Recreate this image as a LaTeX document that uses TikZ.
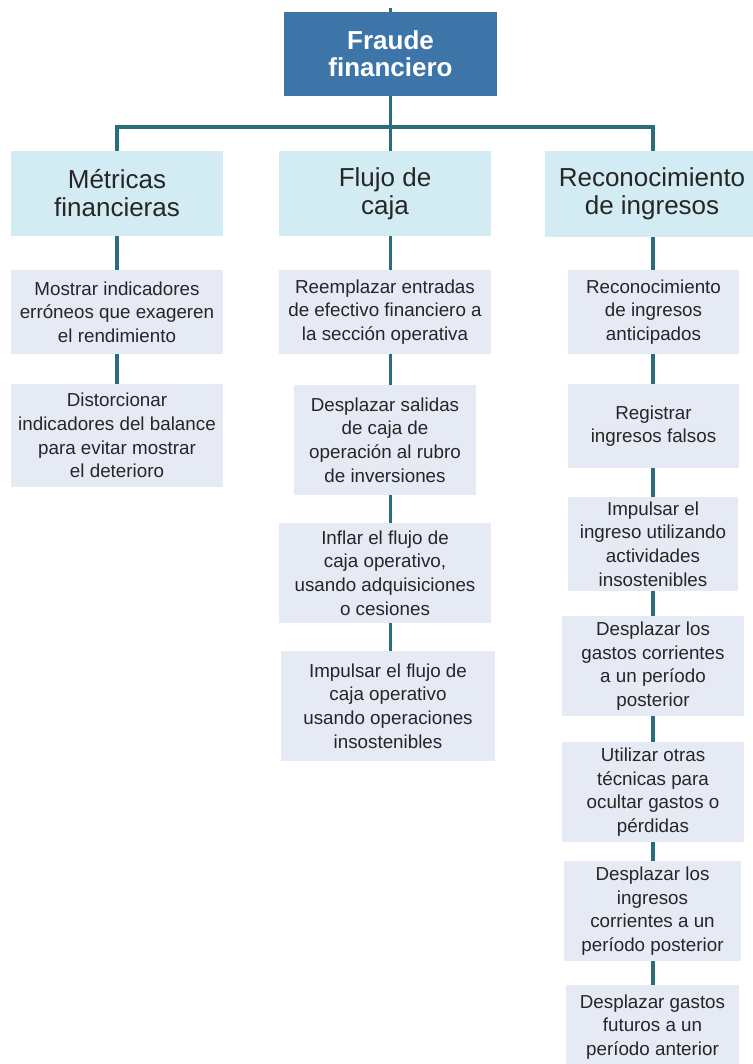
\documentclass[tikz,border=0pt]{standalone}
\usepackage{fontspec}
\setmainfont{Liberation Sans}
\definecolor{rootblue}{HTML}{3D75A9}
\definecolor{lvlone}{HTML}{D3ECF3}
\definecolor{lvltwo}{HTML}{E5EAF5}
\definecolor{connteal}{HTML}{2A6D7C}
\definecolor{txtgray}{HTML}{262626}
\tikzset{
  rootbox/.style={fill=rootblue, text=white, inner sep=0pt, align=center,
    font=\fontsize{26}{27}\selectfont\bfseries},
  catbox/.style={fill=lvlone, text=txtgray, inner sep=0pt, align=center,
    font=\fontsize{26}{28}\selectfont},
  itembox/.style={fill=lvltwo, text=txtgray, inner sep=0pt, align=center,
    font=\fontsize{18.8}{23.6}\selectfont},
  conn/.style={draw=connteal, line width=3.5pt}
}
\begin{document}
\begin{tikzpicture}[x=1pt,y=-1pt]
\useasboundingbox (0,0) rectangle (752,1064);
% root
\node[rootbox, minimum width=213pt, minimum height=84pt] (root) at (390.5,54) {Fraude\\financiero};
\coordinate (topend) at (390.5,8);
% level 1
\node[catbox, minimum width=212pt, minimum height=85pt] (A) at (117,193.5) {Métricas\\financieras};
\node[catbox, minimum width=212pt, minimum height=85pt] (B) at (385,193.5) {Flujo de\\caja};
\node[catbox, minimum width=214pt, minimum height=86pt] (C) at (652,194) {Reconocimiento\\de ingresos};
% column 1
\node[itembox, minimum width=212pt, minimum height=84pt] (m1) at (117,312) {Mostrar indicadores\\erróneos que exageren\\el rendimiento};
\node[itembox, minimum width=212pt, minimum height=103pt] (m2) at (117,435.5) {Distorcionar\\indicadores del balance\\para evitar mostrar\\el deterioro};
% column 2
\node[itembox, minimum width=212pt, minimum height=84pt] (f1) at (385,312) {Reemplazar entradas\\de efectivo financiero a\\la sección operativa};
\node[itembox, minimum width=182pt, minimum height=110pt] (f2) at (385,440) {Desplazar salidas\\de caja de\\operación al rubro\\de inversiones};
\node[itembox, minimum width=212pt, minimum height=100pt] (f3) at (385,573) {Inflar el flujo de\\caja operativo,\\usando adquisiciones\\o cesiones};
\node[itembox, minimum width=214pt, minimum height=110pt] (f4) at (388,706) {Impulsar el flujo de\\caja operativo\\usando operaciones\\insostenibles};
% column 3
\node[itembox, minimum width=171pt, minimum height=84pt] (r1) at (653.5,312) {Reconocimiento\\de ingresos\\anticipados};
\node[itembox, minimum width=171pt, minimum height=84pt] (r2) at (653.5,426) {Registrar\\ingresos falsos};
\node[itembox, minimum width=170pt, minimum height=94pt] (r3) at (653,544) {Impulsar el\\ingreso utilizando\\actividades\\insostenibles};
\node[itembox, minimum width=182pt, minimum height=100pt] (r4) at (653,666) {Desplazar los\\gastos corrientes\\a un período\\posterior};
\node[itembox, minimum width=182pt, minimum height=100pt] (r5) at (653,792) {Utilizar otras\\técnicas para\\ocultar gastos o\\pérdidas};
\node[itembox, minimum width=177pt, minimum height=100pt] (r6) at (652.5,911) {Desplazar los\\ingresos\\corrientes a un\\período posterior};
\node[itembox, minimum width=173pt, minimum height=84pt] (r7) at (652.5,1027) {Desplazar gastos\\futuros a un\\período anterior};
% bar coordinates
\coordinate (barL) at (117,127);
\coordinate (barR) at (653,127);
% connectors
\draw[conn] (root.north) -- (topend);
\draw[conn] (root.south) -- (root.south |- barL) -- (root.south |- B.north);
\draw[conn] (barL |- A.north) -- (barL) -- (barR) -- (barR |- C.north);
\draw[conn] (A.south) -- (m1.north);
\draw[conn] (m1.south) -- (m2.north);
\draw[conn] (root.south |- B.south) -- (root.south |- f1.north);
\draw[conn] (root.south |- f1.south) -- (root.south |- f2.north);
\draw[conn] (root.south |- f2.south) -- (root.south |- f3.north);
\draw[conn] (root.south |- f3.south) -- (root.south |- f4.north);
\draw[conn] (barR |- C.south) -- (barR |- r1.north);
\draw[conn] (barR |- r1.south) -- (barR |- r2.north);
\draw[conn] (barR |- r2.south) -- (barR |- r3.north);
\draw[conn] (barR |- r3.south) -- (barR |- r4.north);
\draw[conn] (barR |- r4.south) -- (barR |- r5.north);
\draw[conn] (barR |- r5.south) -- (barR |- r6.north);
\draw[conn] (barR |- r6.south) -- (barR |- r7.north);
\end{tikzpicture}
\end{document}
